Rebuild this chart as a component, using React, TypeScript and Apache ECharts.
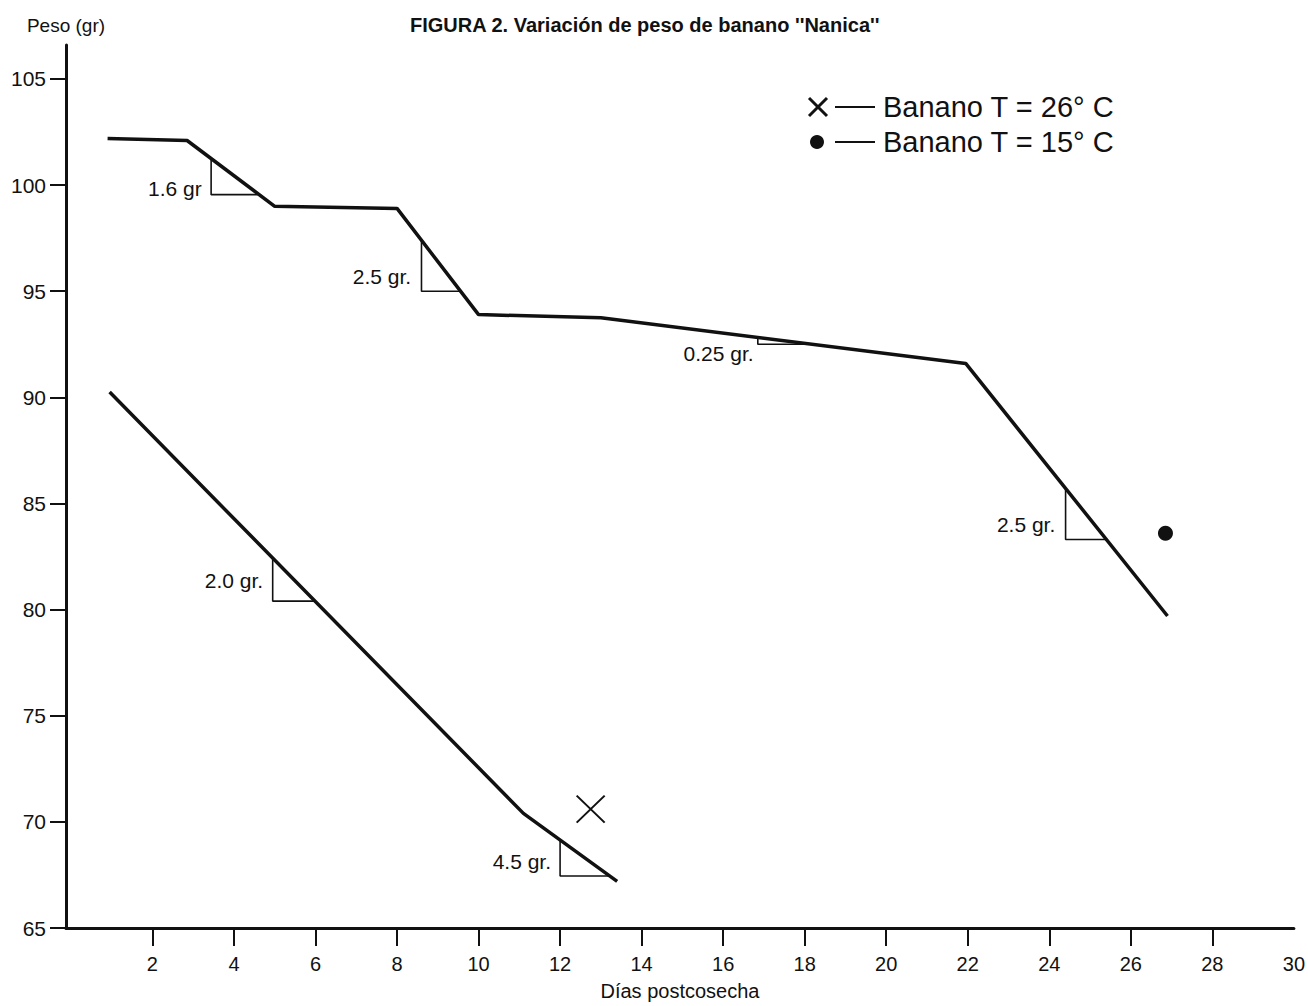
import React, { useEffect, useRef } from "react";
import * as echarts from "echarts";

// ---- data ----
const yTickValues = [65, 70, 75, 80, 85, 90, 95, 100, 105];
const xTickValues = [2, 4, 6, 8, 10, 12, 14, 16, 18, 20, 22, 24, 26, 28];
const xLabelValues = [2, 4, 6, 8, 10, 12, 14, 16, 18, 20, 22, 24, 26, 28, 30];

// Banano T = 15 °C (line + dot)
const banano15Line = [
  [0.9, 102.2], [2.85, 102.1], [5.0, 99.0], [8.0, 98.9],
  [10.0, 93.9], [13.0, 93.75], [21.95, 91.6], [26.9, 79.7],
];
const banano15Point = [[26.85, 83.6]];

// Banano T = 26 °C (line + X)
const banano26Line = [[0.95, 90.25], [11.1, 70.4], [13.4, 67.2]];
const banano26Point = [[12.75, 70.6]];

// slope triangles (top on line, right-angle corner, right end on line)
const slopeTriangles = [
  [[3.44, 101.2], [3.44, 99.55], [4.58, 99.55]],
  [[8.6, 97.4], [8.6, 95.0], [9.55, 95.0]],
  [[16.85, 92.83], [16.85, 92.5], [18.2, 92.5]],
  [[4.95, 82.43], [4.95, 80.4], [5.99, 80.4]],
  [[12.0, 69.15], [12.0, 67.45], [13.2, 67.45]],
  [[24.4, 85.71], [24.4, 83.3], [25.4, 83.3]],
];
const slopeLabels = ["1.6 gr", "2.5 gr.", "0.25 gr.", "2.0 gr.", "4.5 gr.", "2.5 gr."];
const slopeLabelAnchors = [
  [3.22, 99.85], [8.36, 95.68], [16.76, 92.08],
  [4.73, 81.36], [11.79, 68.12], [24.16, 84.03],
];

const legendNames = ["Banano T = 26° C", "Banano T = 15° C"];
const titleText = "FIGURA 2. Variación de peso de banano ''Nanica''";
const yAxisName = "Peso (gr)";
const xAxisName = "Días postcosecha";

const FONT = "'Liberation Sans', Arial, Helvetica, sans-serif";
const INK = "#111";

export default function App() {
  const ref = useRef<HTMLDivElement>(null);

  useEffect(() => {
    document.body.style.margin = "0";
    document.body.style.background = "#fff";
    if (!ref.current) return;
    const chart = echarts.init(ref.current, null, { renderer: "svg" });

    const triangleSeries = slopeTriangles.map((tri) => ({
      type: "line",
      data: tri,
      symbol: "none",
      silent: true,
      lineStyle: { color: INK, width: 1.6 },
      z: 3,
    }));

    const option: any = {
      animation: false,
      backgroundColor: "#fff",
      title: {
        text: titleText,
        left: 410,
        top: 15,
        padding: 0,
        textStyle: { fontFamily: FONT, fontSize: 20, fontWeight: "bold", color: INK },
      },
      grid: { left: 66, right: 12, top: 45, bottom: 71, containLabel: false },
      xAxis: {
        type: "value",
        min: -0.12,
        max: 30,
        name: xAxisName,
        nameLocation: "middle",
        nameGap: 53,
        nameTextStyle: { fontFamily: FONT, fontSize: 20, color: INK },
        splitLine: { show: false },
        axisLine: { onZero: false, lineStyle: { color: INK, width: 3 } },
        axisTick: { show: true, length: 18, inside: false, customValues: xTickValues, lineStyle: { color: INK, width: 2 } },
        axisLabel: {
          customValues: xLabelValues,
          margin: 26,
          fontFamily: FONT,
          fontSize: 20,
          color: INK,
        },
      },
      yAxis: {
        type: "value",
        min: 65,
        max: 106.6,
        name: yAxisName,
        nameLocation: "end",
        nameGap: 10,
        nameTextStyle: { fontFamily: FONT, fontSize: 19, color: INK },
        splitLine: { show: false },
        axisLine: { onZero: false, lineStyle: { color: INK, width: 3 } },
        axisTick: { show: true, length: 16, customValues: yTickValues, lineStyle: { color: INK, width: 2 } },
        axisLabel: {
          customValues: yTickValues,
          margin: 20,
          fontFamily: FONT,
          fontSize: 21,
          color: INK,
        },
      },
      series: [
        {
          name: legendNames[1],
          type: "line",
          data: banano15Line,
          symbol: "none",
          lineStyle: { color: INK, width: 3.5 },
          z: 4,
        },
        {
          name: legendNames[0],
          type: "line",
          data: banano26Line,
          symbol: "none",
          lineStyle: { color: INK, width: 3.5 },
          z: 4,
        },
        {
          name: legendNames[1] + " punto",
          type: "scatter",
          data: banano15Point,
          symbol: "circle",
          symbolSize: 15,
          itemStyle: { color: INK, opacity: 1 },
          z: 5,
        },
        {
          name: legendNames[0] + " punto",
          type: "scatter",
          data: banano26Point,
          symbol: "path://M0,0L10,10M10,0L0,10",
          symbolSize: [28, 27],
          itemStyle: { color: "none", borderColor: INK, borderWidth: 2, opacity: 1 },
          z: 5,
        },
        ...triangleSeries,
        {
          type: "scatter",
          data: slopeLabelAnchors.map((p, i) => ({ value: p, name: slopeLabels[i] })),
          symbolSize: 1,
          itemStyle: { color: "rgba(0,0,0,0)", opacity: 1 },
          silent: true,
          label: {
            show: true,
            position: "left",
            distance: 0,
            formatter: (p: any) => p.name,
            fontFamily: FONT,
            fontSize: 21,
            color: INK,
            opacity: 1,
          },
          z: 6,
        },
      ],
      graphic: [
        // legend row 1: X —— text
        { type: "line", shape: { x1: 809, y1: 98, x2: 827, y2: 116 }, style: { stroke: INK, lineWidth: 3 } },
        { type: "line", shape: { x1: 809, y1: 116, x2: 827, y2: 98 }, style: { stroke: INK, lineWidth: 3 } },
        { type: "line", shape: { x1: 835, y1: 107, x2: 875, y2: 107 }, style: { stroke: INK, lineWidth: 2 } },
        {
          type: "text",
          x: 883,
          y: 107,
          style: { text: legendNames[0], fontFamily: FONT, fontSize: 29, fill: INK, verticalAlign: "middle", align: "left" },
        },
        // legend row 2: ● —— text
        { type: "circle", shape: { cx: 817, cy: 142, r: 7 }, style: { fill: INK } },
        { type: "line", shape: { x1: 835, y1: 142, x2: 875, y2: 142 }, style: { stroke: INK, lineWidth: 2 } },
        {
          type: "text",
          x: 883,
          y: 142,
          style: { text: legendNames[1], fontFamily: FONT, fontSize: 29, fill: INK, verticalAlign: "middle", align: "left" },
        },
      ],
    };

    chart.setOption(option);
    return () => chart.dispose();
  }, []);

  return <div ref={ref} style={{ width: 1308, height: 1006 }} />;
}
